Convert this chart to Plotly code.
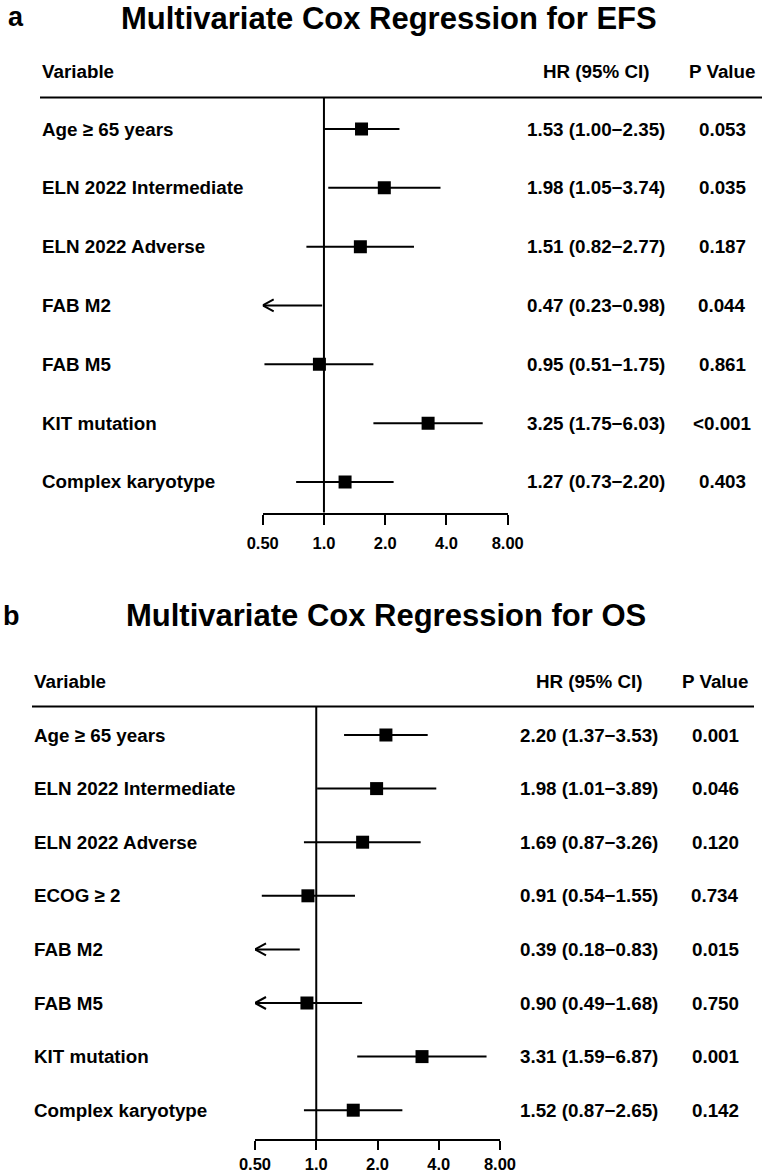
import math
import plotly.graph_objects as go

W, H = 762, 1173

# ---------------- data ----------------
efs_vars = ["Age ≥ 65 years", "ELN 2022 Intermediate", "ELN 2022 Adverse",
            "FAB M2", "FAB M5", "KIT mutation", "Complex karyotype"]
efs_hr = [1.53, 1.98, 1.51, 0.47, 0.95, 3.25, 1.27]
efs_lo = [1.00, 1.05, 0.82, 0.23, 0.51, 1.75, 0.73]
efs_hi = [2.35, 3.74, 2.77, 0.98, 1.75, 6.03, 2.20]
efs_p = ["0.053", "0.035", "0.187", "0.044", "0.861", "<0.001", "0.403"]

os_vars = ["Age ≥ 65 years", "ELN 2022 Intermediate", "ELN 2022 Adverse",
           "ECOG ≥ 2", "FAB M2", "FAB M5", "KIT mutation", "Complex karyotype"]
os_hr = [2.20, 1.98, 1.69, 0.91, 0.39, 0.90, 3.31, 1.52]
os_lo = [1.37, 1.01, 0.87, 0.54, 0.18, 0.49, 1.59, 0.87]
os_hi = [3.53, 3.89, 3.26, 1.55, 0.83, 1.68, 6.87, 2.65]
os_p = ["0.001", "0.046", "0.120", "0.734", "0.015", "0.750", "0.001", "0.142"]

tick_vals = [0.5, 1, 2, 4, 8]
tick_text = ["0.50", "1.0", "2.0", "4.0", "8.00"]
x_min, x_max = 0.5, 8.0

FONT = "Liberation Sans, Arial, Helvetica, sans-serif"


def py(px):
    return 1 - px / H


def pxx(px):
    return px / W


panels = [
    dict(letter="a", title="Multivariate Cox Regression for EFS",
         vars=efs_vars, hr=efs_hr, lo=efs_lo, hi=efs_hi, p=efs_p,
         xs="x", ys="y", xa="xaxis", ya="yaxis",
         x0=262.7, x1=507.7, row0=129.0, rowstep=58.83, top=97.5, axis=512.5,
         ticklen=10, standoff=5,
         letter_x=6, letter_y=17, title_x=389, title_y=18,
         head_y=72, left=40, line_right=762, hr_x=596, p_x=722),
    dict(letter="b", title="Multivariate Cox Regression for OS",
         vars=os_vars, hr=os_hr, lo=os_lo, hi=os_hi, p=os_p,
         xs="x2", ys="y2", xa="xaxis2", ya="yaxis2",
         x0=255.0, x1=500.0, row0=735.0, rowstep=53.6, top=706.5, axis=1139.0,
         ticklen=9, standoff=0,
         letter_x=1, letter_y=616, title_x=386, title_y=615,
         head_y=681, left=32, line_right=754, hr_x=589, p_x=715),
]

fig = go.Figure()
annotations = []
shapes = []
layout_axes = {}

for P in panels:
    n = len(P["vars"])
    ppd = (P["x1"] - P["x0"]) / math.log2(x_max / x_min)  # px per doubling
    y_bottom = (P["axis"] - P["row0"]) / P["rowstep"]
    y_top = (P["top"] - P["row0"]) / P["rowstep"]

    layout_axes[P["xa"]] = dict(
        type="log", range=[math.log10(x_min), math.log10(x_max)],
        domain=[pxx(P["x0"]), pxx(P["x1"])], anchor=P["ys"],
        showline=True, linewidth=2, linecolor="black",
        ticks="outside", ticklen=P["ticklen"], tickwidth=2, tickcolor="black",
        tickvals=tick_vals, ticktext=[f"<b>{t}</b>" for t in tick_text],
        tickfont=dict(family=FONT, size=16.5, color="black"),
        ticklabelstandoff=P["standoff"], automargin=False,
        showgrid=False, zeroline=False, fixedrange=True,
    )
    layout_axes[P["ya"]] = dict(
        range=[y_bottom, y_top], domain=[py(P["axis"]), py(P["top"])],
        anchor=P["xs"], visible=False, fixedrange=True, automargin=False,
    )

    # CI lines
    cx, cy = [], []
    for i in range(n):
        lo = max(P["lo"][i], x_min)
        hi = min(P["hi"][i], x_max)
        cx += [lo, hi, None]
        cy += [i, i, None]
    fig.add_trace(go.Scatter(x=cx, y=cy, xaxis=P["xs"], yaxis=P["ys"], mode="lines",
                             line=dict(color="black", width=2), hoverinfo="skip",
                             showlegend=False))
    # arrows for clipped lower limits
    ax, ay = [], []
    fx = 2 ** (11 / ppd)
    dy = 6 / P["rowstep"]
    for i in range(n):
        if P["lo"][i] < x_min:
            ax += [x_min * fx, x_min, x_min * fx, None]
            ay += [i - dy, i, i + dy, None]
    if ax:
        fig.add_trace(go.Scatter(x=ax, y=ay, xaxis=P["xs"], yaxis=P["ys"], mode="lines",
                                 line=dict(color="black", width=2), hoverinfo="skip",
                                 showlegend=False, cliponaxis=False))
    # point estimates
    sx = [P["hr"][i] for i in range(n) if x_min <= P["hr"][i] <= x_max]
    sy = [i for i in range(n) if x_min <= P["hr"][i] <= x_max]
    fig.add_trace(go.Scatter(x=sx, y=sy, xaxis=P["xs"], yaxis=P["ys"], mode="markers",
                             marker=dict(symbol="square", size=13, color="black",
                                         line=dict(width=0)),
                             hoverinfo="skip", showlegend=False))

    # reference line at HR = 1
    shapes.append(dict(type="line", xref=P["xs"], yref=P["ys"] + " domain",
                       x0=1, x1=1, y0=0, y1=1, line=dict(color="black", width=2)))
    # header rule
    shapes.append(dict(type="line", xref="paper", yref="paper",
                       x0=pxx(P["left"]), x1=pxx(P["line_right"]),
                       y0=py(P["top"]), y1=py(P["top"]), line=dict(color="black", width=2)))

    # panel letter and title
    annotations.append(dict(text=f"<b>{P['letter']}</b>", x=pxx(P["letter_x"]), y=py(P["letter_y"]),
                            xref="paper", yref="paper", xanchor="left", yanchor="middle",
                            showarrow=False, font=dict(family=FONT, size=27, color="black")))
    annotations.append(dict(text=f"<b>{P['title']}</b>", x=pxx(P["title_x"]), y=py(P["title_y"]),
                            xref="paper", yref="paper", xanchor="center", yanchor="middle",
                            showarrow=False, borderpad=0,
                            font=dict(family=FONT, size=31, color="black")))
    # headers
    for txt, x, anc in [("Variable", P["left"], "left"), ("HR (95% CI)", P["hr_x"], "center"),
                        ("P Value", P["p_x"], "center")]:
        annotations.append(dict(text=f"<b>{txt}</b>", x=pxx(x), y=py(P["head_y"]),
                                xref="paper", yref="paper", xanchor=anc, yanchor="middle",
                                showarrow=False, font=dict(family=FONT, size=18.8, color="black")))
    # rows
    for i in range(n):
        hr_txt = f"{P['hr'][i]:.2f} ({P['lo'][i]:.2f}\u2212{P['hi'][i]:.2f})"
        for txt, x, anc in [(P["vars"][i], P["left"], "left"), (hr_txt, P["hr_x"], "center"),
                            (P["p"][i], P["p_x"], "center")]:
            annotations.append(dict(text=f"<b>{txt}</b>", x=pxx(x), y=i,
                                    xref="paper", yref=P["ys"], xanchor=anc, yanchor="middle",
                                    showarrow=False,
                                    font=dict(family=FONT, size=18.8, color="black")))

fig.update_layout(
    width=W, height=H, autosize=False,
    margin=dict(l=0, r=0, t=0, b=0, pad=0, autoexpand=False),
    paper_bgcolor="white", plot_bgcolor="white",
    showlegend=False, annotations=annotations, shapes=shapes,
    **layout_axes,
)

fig.write_html("out.html", config={"displayModeBar": False})
